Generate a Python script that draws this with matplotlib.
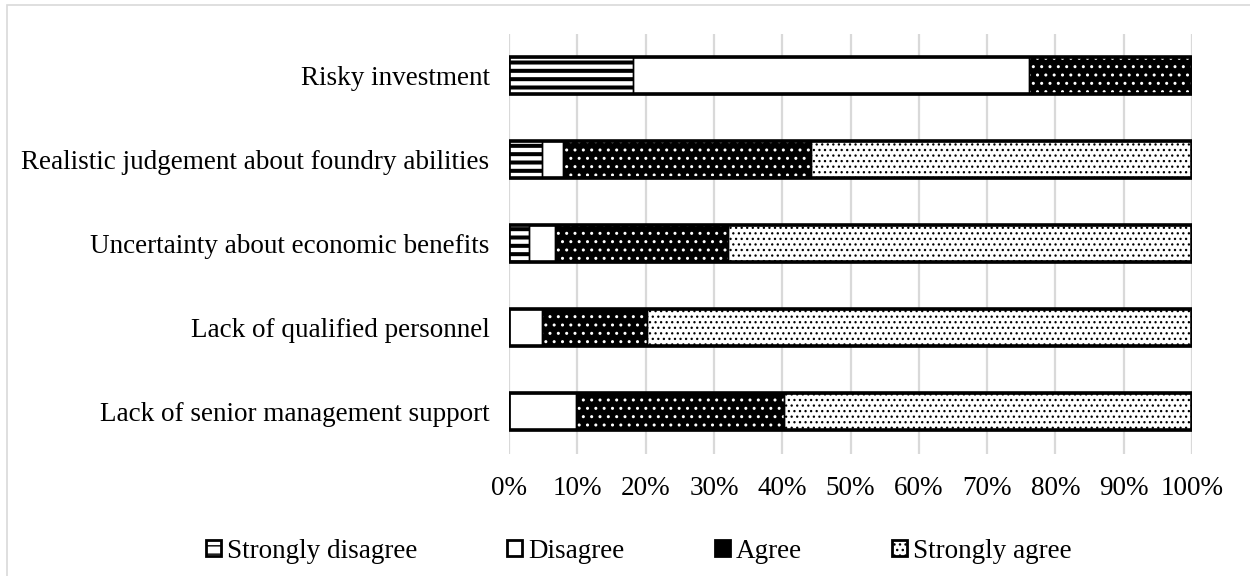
import matplotlib
matplotlib.use("Agg")
import matplotlib.pyplot as plt
from matplotlib.patches import Patch, Rectangle
from matplotlib.ticker import PercentFormatter
import numpy as np

plt.rcParams['font.family'] = ['Liberation Serif', 'DejaVu Serif']

categories = [
    "Risky investment",
    "Realistic judgement about foundry abilities",
    "Uncertainty about economic benefits",
    "Lack of qualified personnel",
    "Lack of senior management support",
]
strongly_disagree = [18.2, 4.9, 2.9, 0.0, 0.0]
disagree = [58.0, 3.0, 3.9, 4.8, 9.8]
agree = [23.8, 36.3, 25.3, 15.4, 30.5]
strongly_agree = [0.0, 55.8, 67.9, 79.8, 59.7]
series_names = ["Strongly disagree", "Disagree", "Agree", "Strongly agree"]
tick_values = list(range(0, 101, 10))

# face colour, hatch colour, hatch pattern, hatch linewidth
styles = [
    ("white", "black", "--", 2.9),
    ("white", "black", "", 1.0),
    ("black", "white", "..", 1.0),
    ("white", "black", "...", 0.9),
]

FS = 19.5

fig = plt.figure(figsize=(12.5, 5.76), dpi=100)
ax = fig.add_axes([0.4072, 0.212, 0.5464, 0.729])

y = np.arange(len(categories))[::-1]
series = [strongly_disagree, disagree, agree, strongly_agree]
left = np.zeros(len(categories))
bar_h = 0.44
for vals, (fc, hc, hatch, hlw) in zip(series, styles):
    vals = np.array(vals)
    with plt.rc_context({'hatch.linewidth': hlw}):
        bars = ax.barh(y, vals, left=left, height=bar_h, color=fc,
                       edgecolor=hc, hatch=hatch, linewidth=0, zorder=2)
        for b in bars:
            if hasattr(b, 'set_hatch_linewidth'):
                b.set_hatch_linewidth(hlw)
    # segment outlines
    ax.barh(y, vals, left=left, height=bar_h, fill=False,
            edgecolor="black", linewidth=1.0, zorder=3)
    left = left + vals

# thick outline around each whole bar
ax.barh(y, left, height=bar_h, fill=False, edgecolor="black",
        linewidth=2.6, zorder=4)

ax.set_xlim(0, 100)
ax.set_ylim(-0.5, len(categories) - 0.5)
ax.set_xticks(tick_values)
ax.xaxis.set_major_formatter(PercentFormatter(decimals=0))
ax.set_yticks(y)
ax.set_yticklabels(categories)
ax.tick_params(axis='both', length=0, labelsize=FS, colors='black')
ax.tick_params(axis='x', pad=16)
ax.tick_params(axis='y', pad=14)
ax.grid(axis='x', color='#d9d9d9', linewidth=1.6, zorder=0)
ax.set_axisbelow(True)
for s in ax.spines.values():
    s.set_visible(False)

handles = []
for name, (fc, hc, hatch, hlw) in zip(series_names, styles):
    handles.append(Patch(facecolor=fc, edgecolor='black', hatch=hatch,
                         linewidth=2.0, label=name))
fig.legend(handles=handles, loc='center', bbox_to_anchor=(0.511, 0.043),
           ncol=4, frameon=False, fontsize=FS, handlelength=0.55,
           handleheight=0.55, handletextpad=0.22, columnspacing=3.33)

# chart area border
fig.add_artist(Rectangle((0.0056, -0.01), 1.2, 1.001, transform=fig.transFigure,
                         fill=False, edgecolor='#d9d9d9', linewidth=1.2))

fig.savefig("out.png", dpi=100, facecolor='white')
